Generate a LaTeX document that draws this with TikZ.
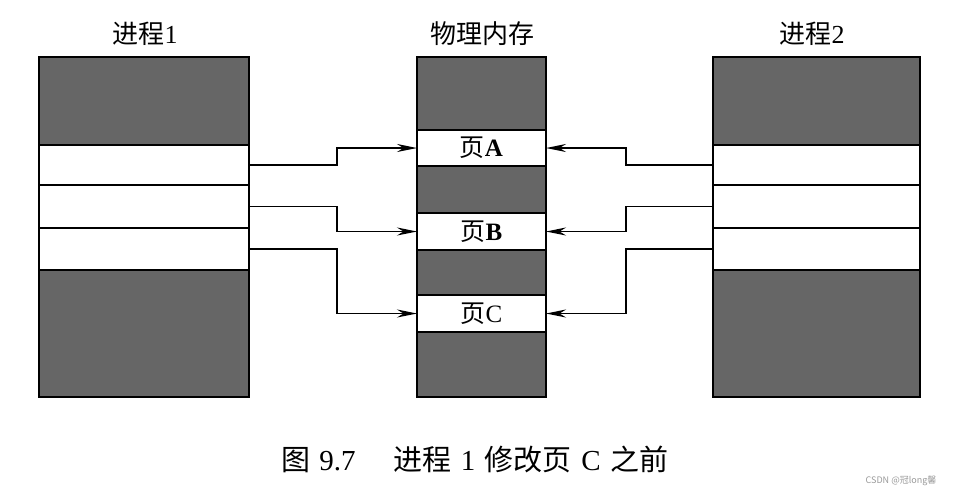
\documentclass[tikz,border=0pt]{standalone}
\usepackage{fontspec}
\setmainfont{Liberation Serif}
\newfontfamily\cjk{Noto Sans CJK SC}
\usetikzlibrary{arrows.meta}
\begin{document}
\begin{tikzpicture}[x=1pt,y=-1pt,
  blk/.style={draw=black, line width=1.8pt, inner sep=0pt, outer sep=0pt},
  darkblk/.style={blk, fill=black!60},
  whiteblk/.style={blk, fill=white},
  frame/.style={draw=black, line width=2.8pt},
  conn/.style={draw=black, line width=1.8pt, -{Stealth[length=20pt,width=8pt]}},
  title/.style={font=\fontsize{26}{26}\selectfont},
  pagelbl/.style={font=\fontsize{25}{25}\selectfont}]
\useasboundingbox (0,0) rectangle (953,499);
% ---------- Process 1 ----------
\node[darkblk, minimum width=210pt, minimum height=88pt] (p1top) at (144,101) {};
\node[whiteblk, minimum width=210pt, minimum height=40pt] (p1r1) at (144,165) {};
\node[whiteblk, minimum width=210pt, minimum height=43pt] (p1r2) at (144,206.5) {};
\node[whiteblk, minimum width=210pt, minimum height=42pt] (p1r3) at (144,249) {};
\node[darkblk, minimum width=210pt, minimum height=127pt] (p1bot) at (144,333.5) {};
\draw[frame] (p1top.north west) rectangle (p1bot.south east);
% ---------- Physical memory ----------
\node[darkblk, minimum width=129pt, minimum height=73pt] (m1) at (481.5,93.5) {};
\node[whiteblk, minimum width=129pt, minimum height=36pt, pagelbl] (pa) at (481.5,148) {{\cjk 页}\textbf{A}};
\node[darkblk, minimum width=129pt, minimum height=47pt] (m2) at (481.5,189.5) {};
\node[whiteblk, minimum width=129pt, minimum height=37pt, pagelbl] (pb) at (481.5,231.5) {{\cjk 页}\textbf{B}};
\node[darkblk, minimum width=129pt, minimum height=45pt] (m3) at (481.5,272.5) {};
\node[whiteblk, minimum width=129pt, minimum height=37pt, pagelbl] (pc) at (481.5,313.5) {{\cjk 页}C};
\node[darkblk, minimum width=129pt, minimum height=65pt] (m4) at (481.5,364.5) {};
\draw[frame] (m1.north west) rectangle (m4.south east);
% ---------- Process 2 ----------
\node[darkblk, minimum width=207pt, minimum height=88pt] (p2top) at (816.5,101) {};
\node[whiteblk, minimum width=207pt, minimum height=40pt] (p2r1) at (816.5,165) {};
\node[whiteblk, minimum width=207pt, minimum height=43pt] (p2r2) at (816.5,206.5) {};
\node[whiteblk, minimum width=207pt, minimum height=42pt] (p2r3) at (816.5,249) {};
\node[darkblk, minimum width=207pt, minimum height=127pt] (p2bot) at (816.5,333.5) {};
\draw[frame] (p2top.north west) rectangle (p2bot.south east);
% ---------- Titles ----------
\node[title] (t1) at (145,34) {{\cjk 进程}1};
\node[title] (tm) at (482,34) {\cjk 物理内存};
\node[title] (t2) at (812,34) {{\cjk 进程}2};
% ---------- Connectors ----------
\draw[conn] (p1r1.east) -- ++(88,0) |- (pa.west);
\draw[conn] (p1r2.east) -- ++(88,0) |- (pb.west);
\draw[conn] (p1r3.east) -- ++(88,0) |- (pc.west);
\draw[conn] (p2r1.west) -- ++(-87,0) |- (pa.east);
\draw[conn] (p2r2.west) -- ++(-87,0) |- (pb.east);
\draw[conn] (p2r3.west) -- ++(-87,0) |- (pc.east);
% ---------- Caption ----------
\node[font=\fontsize{29}{29}\selectfont] (cap) at (475,459) {{\cjk 图}\hspace{0.3em}9.7\hspace{1.3em}{\cjk 进程}\hspace{0.33em}1\hspace{0.33em}{\cjk 修改页}\hspace{0.33em}C\hspace{0.33em}{\cjk 之前}};
\node[text=black!40, font=\cjk\fontsize{9}{9}\selectfont] (wm) at (901,481) {CSDN @冠long馨};
\end{tikzpicture}
\end{document}
